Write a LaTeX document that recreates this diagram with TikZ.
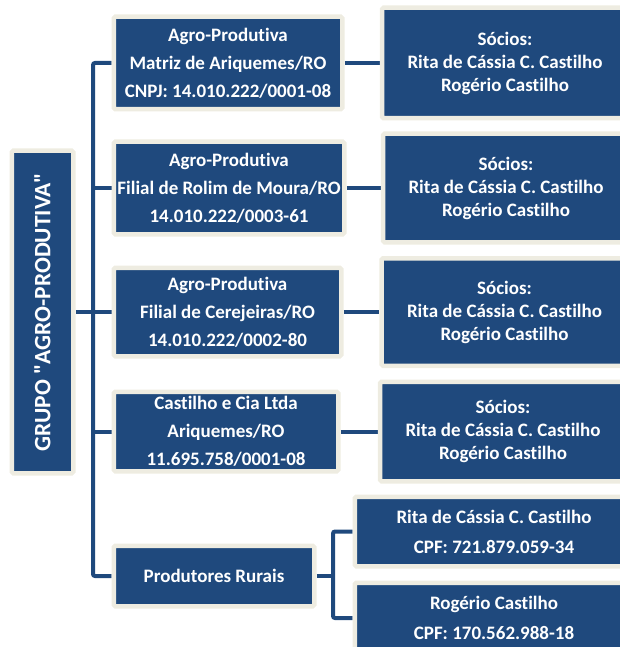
\documentclass[tikz,border=0pt]{standalone}
\usepackage{fontspec}
\newfontfamily\calib{Carlito}[Ligatures={NoCommon}]
\usetikzlibrary{positioning,backgrounds}
\definecolor{boxblue}{HTML}{1F497D}
\definecolor{boxrim}{HTML}{EEECE1}

\begin{document}
\begin{tikzpicture}[x=1pt,y=-1pt,node distance=277pt,on grid,
  box/.style={fill=boxblue,draw=boxrim,line width=4.5pt,rounded corners=1.5pt,
    inner sep=0pt,text=white,align=center,font=\calib\fontsize{19}{28}\selectfont\bfseries},
  socio/.style={box,minimum width=246pt,font=\calib\fontsize{19}{23}\selectfont\bfseries},
  link/.style={draw=boxblue,line width=4pt,rounded corners=2pt}]
   \useasboundingbox (0,0) rectangle (620,647);
   \clip (0,0) rectangle (620,647);

   \node[box,rotate=90,minimum width=322.5pt,minimum height=61.5pt,
     font=\calib\fontsize{23.5}{28}\selectfont\bfseries] (root) at (42.5,312) {GRUPO "AGRO-PRODUTIVA"};

   \node[box,minimum width=228.5pt,minimum height=92.5pt] (m_1) at (228,63)
     {Agro-Produtiva\\Matriz de Ariquemes/RO\\CNPJ: 14.010.222/0001-08};
   \node[box,minimum width=230.5pt,minimum height=92.5pt] (m_2) at (229,188)
     {Agro-Produtiva\\Filial de Rolim de Moura/RO\\14.010.222/0003-61};
   \node[box,minimum width=227.5pt,minimum height=88.5pt] (m_3) at (227.5,312)
     {Agro-Produtiva\\Filial de Cerejeiras/RO\\14.010.222/0002-80};
   \node[box,minimum width=224.5pt,minimum height=79.5pt] (m_4) at (226,431.5)
     {Castilho e Cia Ltda\\Ariquemes/RO\\11.695.758/0001-08};
   \node[box,minimum width=200.5pt,minimum height=60.5pt] (m_5) at (214,576)
     {Produtores Rurais};

   \node[socio,minimum height=110.5pt] (s_1) [right=of m_1]
     {Sócios:\\Rita de Cássia C. Castilho\\Rogério Castilho};
   \node[socio,minimum height=108.5pt] (s_2) [right=of m_2]
     {Sócios:\\Rita de Cássia C. Castilho\\Rogério Castilho};
   \node[socio,minimum height=107.5pt] (s_3) [right=of m_3]
     {Sócios:\\Rita de Cássia C. Castilho\\Rogério Castilho};
   \node[socio,minimum height=99.5pt] (s_4) [right=of m_4]
     {Sócios:\\Rita de Cássia C. Castilho\\Rogério Castilho};

   \node[box,minimum width=278.5pt,minimum height=69.5pt,
     font=\calib\fontsize{19}{30}\selectfont\bfseries] (p_1) at (494,531.5)
     {Rita de Cássia C. Castilho\\CPF: 721.879.059-34};
   \node[box,minimum width=278.5pt,minimum height=70.5pt,
     font=\calib\fontsize{19}{30}\selectfont\bfseries] (p_2) at (494,618)
     {Rogério Castilho\\CPF: 170.562.988-18};

   \begin{scope}[on background layer]
     \coordinate (trunk) at (93,312);
     \coordinate (fork) at (333,576);
     \draw[link] (m_1.west) -| (trunk) |- (m_5.west);
     \draw[link] (root.south) -- (trunk);
     \foreach \i in {2,3,4}
       \draw[link] (m_\i.west) -- (m_\i.west -| trunk);
     \foreach \i in {1,2,3,4}
       \draw[link] (m_\i.east) -- (s_\i.west);
     \draw[link] (m_5.east) -- (fork);
     \draw[link] (p_1.west) -| (fork) |- (p_2.west);
   \end{scope}
\end{tikzpicture}
\end{document}
